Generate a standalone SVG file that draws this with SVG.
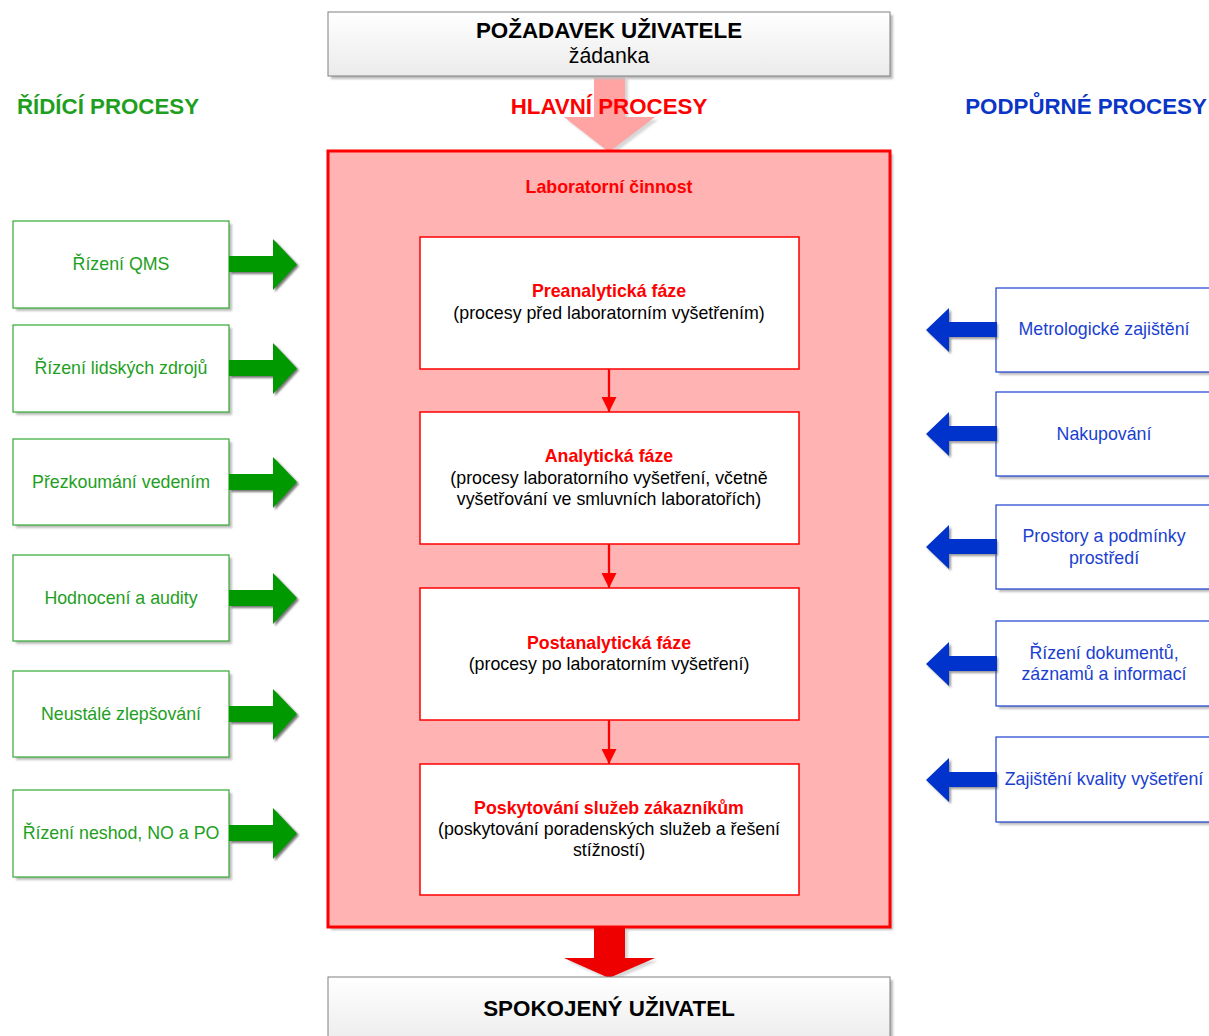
<svg xmlns="http://www.w3.org/2000/svg" width="1209" height="1036" viewBox="0 0 1209 1036">
<defs>
<linearGradient id="gb" x1="0" y1="0" x2="0" y2="1"><stop offset="0" stop-color="#ffffff"/><stop offset="1" stop-color="#ebebeb"/></linearGradient>
<filter id="sh" x="-10%" y="-10%" width="130%" height="130%"><feGaussianBlur stdDeviation="1"/></filter>
<marker id="ra" viewBox="0 0 15 15" refX="15" refY="7.5" markerWidth="15" markerHeight="15" markerUnits="userSpaceOnUse" orient="auto"><path d="M0,0 L15,7.5 L0,15 Z" fill="#ff0000"/></marker>
</defs>
<style>
text{font-family:"Liberation Sans",Arial,sans-serif;text-anchor:middle}
.big{font-size:22.4px;font-weight:bold;fill:#000}
.t{font-size:17.8px}
.b{font-weight:bold}
.red{fill:#ff0000}
.blk{fill:#000}
.grn{fill:#1ea01e}
.blu{fill:#1a3fd0}
.shd{fill:#bdbdbd;filter:url(#sh)}
.lbox{fill:#fff;stroke:#33aa33;stroke-width:1.2}
.rbox{fill:#fff;stroke:#1a3fd0;stroke-width:1.2}
.ibox{fill:#fff;stroke:#ff0000;stroke-width:1.5}
.garr{fill:#009900}
.barr{fill:#0033cc}
.ashd{fill:#555;filter:url(#sh)}
</style>

<!-- Top arrow (pink) -->
<g id="arrow-top">
<path class="shd" d="M597,79 H628 V120 H658 L612,155 L567,120 H597 Z" opacity="0.6"/>
<path d="M594,76 H625 V117 H655 L609,152 L564,117 H594 Z" fill="#ffa3a3"/>
</g>

<g id="node-pozadavek">
<rect class="shd" x="331" y="15" width="562" height="64"/>
<rect x="328" y="12" width="562" height="64" fill="url(#gb)" stroke="#808080" stroke-width="1"/>
<text class="big" x="609" y="38">POŽADAVEK UŽIVATELE</text>
<text x="609" y="63" style="font-size:21.3px;fill:#000">žádanka</text>
</g>

<g id="section-titles">
<text x="108" y="114" class="b grn" style="font-size:22.3px">ŘÍDÍCÍ PROCESY</text>
<text x="609" y="114" class="b red" style="font-size:22.3px">HLAVNÍ PROCESY</text>
<text x="1086" y="114" class="b" style="font-size:22.3px;fill:#0a36c8">PODPŮRNÉ PROCESY</text>
</g>

<g id="node-laboratorni">
<rect class="shd" x="331" y="154" width="562" height="776"/>
<rect x="328" y="151" width="562" height="776" fill="#ffb3b3" stroke="#ff0000" stroke-width="3"/>
<text class="t b red" x="609" y="193">Laboratorní činnost</text>
</g>

<g id="node-preanalyticka">
<rect class="ibox" x="420" y="237" width="379" height="132"/>
<text class="t b red" x="609" y="297">Preanalytická fáze</text>
<text class="t blk" x="609" y="319">(procesy před laboratorním vyšetřením)</text>
</g>
<g id="node-analyticka">
<rect class="ibox" x="420" y="412" width="379" height="132"/>
<text class="t b red" x="609" y="462">Analytická fáze</text>
<text class="t blk" x="609" y="484">(procesy laboratorního vyšetření, včetně</text>
<text class="t blk" x="609" y="505">vyšetřování ve smluvních laboratořích)</text>
</g>
<g id="node-postanalyticka">
<rect class="ibox" x="420" y="588" width="379" height="132"/>
<text class="t b red" x="609" y="649">Postanalytická fáze</text>
<text class="t blk" x="609" y="670">(procesy po laboratorním vyšetření)</text>
</g>
<g id="node-poskytovani">
<rect class="ibox" x="420" y="764" width="379" height="131"/>
<text class="t b red" x="609" y="814">Poskytování služeb zákazníkům</text>
<text class="t blk" x="609" y="835">(poskytování poradenských služeb a řešení</text>
<text class="t blk" x="609" y="856">stížností)</text>
</g>

<g id="connectors" stroke="#ff0000" stroke-width="2.3" fill="none">
<line x1="609" y1="369" x2="609" y2="412" marker-end="url(#ra)"/>
<line x1="609" y1="544" x2="609" y2="588" marker-end="url(#ra)"/>
<line x1="609" y1="720" x2="609" y2="764" marker-end="url(#ra)"/>
</g>

<!-- Bottom arrow (red) -->
<g id="arrow-bottom">
<path class="shd" d="M597,929 H628 V961 H658 L612,981 L567,961 H597 Z" opacity="0.6"/>
<path d="M594,927 H625 V958 H655 L609,978 L564,958 H594 Z" fill="#ee0000"/>
</g>

<g id="node-spokojeny">
<rect class="shd" x="331" y="980" width="562" height="70"/>
<rect x="328" y="977" width="562" height="70" fill="url(#gb)" stroke="#808080" stroke-width="1"/>
<text class="big" x="609" y="1016">SPOKOJENÝ UŽIVATEL</text>
</g>

<!-- Left (green) nodes -->
<g id="node-qms">
<rect class="shd" x="16" y="224" width="216" height="87"/>
<rect class="lbox" x="13" y="221" width="216" height="87"/>
<text class="t grn" x="121" y="270">Řízení QMS</text>
<path class="ashd" d="M231,258 H275 V241 L299,266 L275,292 V274 H231 Z" opacity="0.8"/>
<path class="garr" d="M229,256 H273 V239 L297,264.5 L273,290 V272 H229 Z"/>
</g>
<g id="node-lidske-zdroje">
<rect class="shd" x="16" y="328" width="216" height="87"/>
<rect class="lbox" x="13" y="325" width="216" height="87"/>
<text class="t grn" x="121" y="374">Řízení lidských zdrojů</text>
<path class="ashd" d="M231,362 H275 V345 L299,370 L275,396 V378 H231 Z" opacity="0.8"/>
<path class="garr" d="M229,360 H273 V343 L297,368.5 L273,394 V376 H229 Z"/>
</g>
<g id="node-prezkoumani">
<rect class="shd" x="16" y="442" width="216" height="86"/>
<rect class="lbox" x="13" y="439" width="216" height="86"/>
<text class="t grn" x="121" y="488">Přezkoumání vedením</text>
<path class="ashd" d="M231,476 H275 V459 L299,484 L275,510 V492 H231 Z" opacity="0.8"/>
<path class="garr" d="M229,474 H273 V457 L297,482 L273,508 V490 H229 Z"/>
</g>
<g id="node-hodnoceni">
<rect class="shd" x="16" y="558" width="216" height="86"/>
<rect class="lbox" x="13" y="555" width="216" height="86"/>
<text class="t grn" x="121" y="604">Hodnocení a audity</text>
<path class="ashd" d="M231,592 H275 V575 L299,600 L275,626 V608 H231 Z" opacity="0.8"/>
<path class="garr" d="M229,590 H273 V573 L297,598 L273,624 V606 H229 Z"/>
</g>
<g id="node-zlepsovani">
<rect class="shd" x="16" y="674" width="216" height="86"/>
<rect class="lbox" x="13" y="671" width="216" height="86"/>
<text class="t grn" x="121" y="720">Neustálé zlepšování</text>
<path class="ashd" d="M231,708 H275 V691 L299,716 L275,742 V724 H231 Z" opacity="0.8"/>
<path class="garr" d="M229,706 H273 V689 L297,714 L273,740 V722 H229 Z"/>
</g>
<g id="node-neshody">
<rect class="shd" x="16" y="793" width="216" height="87"/>
<rect class="lbox" x="13" y="790" width="216" height="87"/>
<text class="t grn" x="121" y="839">Řízení neshod, NO a PO</text>
<path class="ashd" d="M231,827 H275 V810 L299,835 L275,861 V843 H231 Z" opacity="0.8"/>
<path class="garr" d="M229,825 H273 V808 L297,833.5 L273,859 V841 H229 Z"/>
</g>

<!-- Right (blue) nodes -->
<g id="node-metrologie">
<rect class="shd" x="999" y="291" width="216" height="84"/>
<rect class="rbox" x="996" y="288" width="216" height="84"/>
<text class="t blu" x="1104" y="335">Metrologické zajištění</text>
<path class="ashd" d="M998,324 H951 V310 L928,332 L951,354 V339 H998 Z" opacity="0.6"/>
<path class="barr" d="M997,322 H949 V308 L926,330 L949,352 V337 H997 Z"/>
</g>
<g id="node-nakupovani">
<rect class="shd" x="999" y="395" width="216" height="84"/>
<rect class="rbox" x="996" y="392" width="216" height="84"/>
<text class="t blu" x="1104" y="440">Nakupování</text>
<path class="ashd" d="M998,428 H951 V414 L928,436 L951,458 V443 H998 Z" opacity="0.6"/>
<path class="barr" d="M997,426 H949 V412 L926,434 L949,456 V441 H997 Z"/>
</g>
<g id="node-prostory">
<rect class="shd" x="999" y="508" width="216" height="84"/>
<rect class="rbox" x="996" y="505" width="216" height="84"/>
<text class="t blu" x="1104" y="542">Prostory a podmínky</text>
<text class="t blu" x="1104" y="564">prostředí</text>
<path class="ashd" d="M998,541 H951 V527 L928,549 L951,571 V556 H998 Z" opacity="0.6"/>
<path class="barr" d="M997,539 H949 V525 L926,547 L949,569 V554 H997 Z"/>
</g>
<g id="node-dokumenty">
<rect class="shd" x="999" y="624" width="216" height="85"/>
<rect class="rbox" x="996" y="621" width="216" height="85"/>
<text class="t blu" x="1104" y="659">Řízení dokumentů,</text>
<text class="t blu" x="1104" y="680">záznamů a informací</text>
<path class="ashd" d="M998,658 H951 V644 L928,666 L951,688 V673 H998 Z" opacity="0.6"/>
<path class="barr" d="M997,656 H949 V642 L926,664 L949,686 V671 H997 Z"/>
</g>
<g id="node-kvalita">
<rect class="shd" x="999" y="740" width="216" height="85"/>
<rect class="rbox" x="996" y="737" width="216" height="85"/>
<text class="t blu" x="1104" y="785">Zajištění kvality vyšetření</text>
<path class="ashd" d="M998,774 H951 V760 L928,782 L951,804 V789 H998 Z" opacity="0.6"/>
<path class="barr" d="M997,772 H949 V758 L926,780 L949,802 V787 H997 Z"/>
</g>
</svg>
